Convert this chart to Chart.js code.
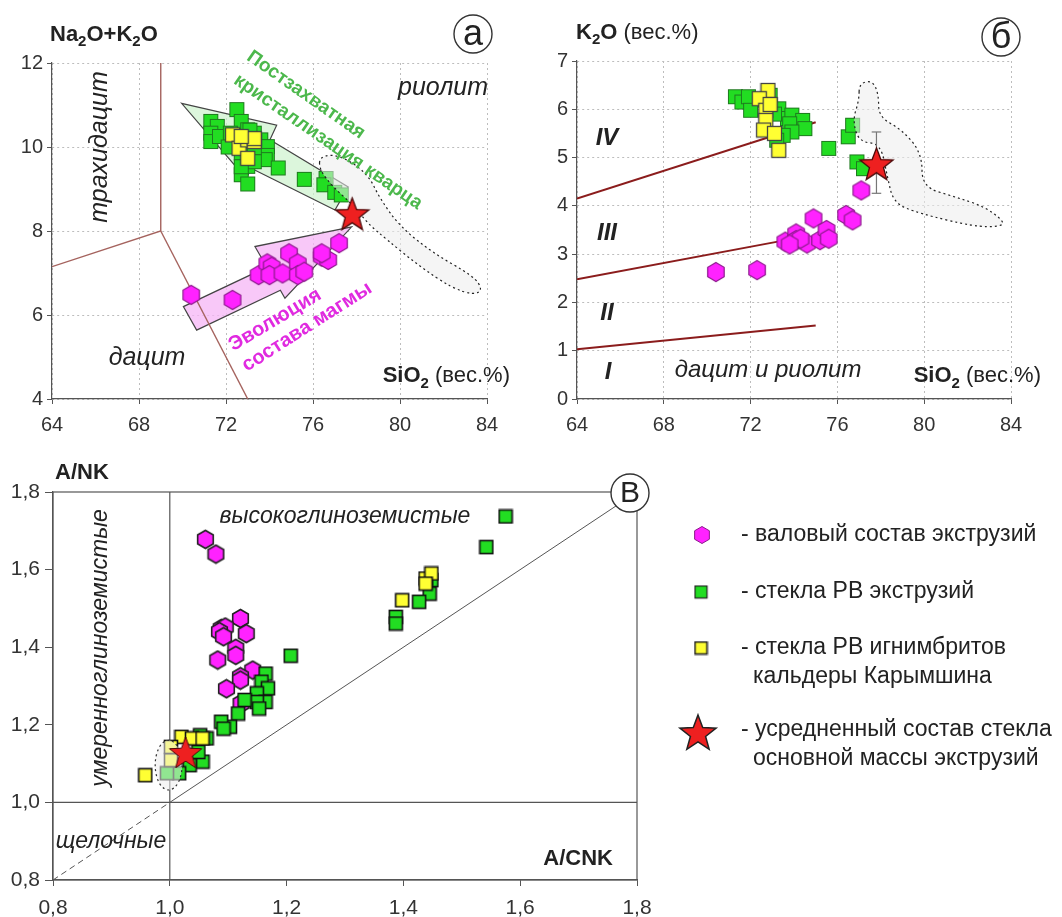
<!DOCTYPE html>
<html lang="ru">
<head>
<meta charset="utf-8">
<title>Диаграммы состава экструзий</title>
<script src="https://cdn.jsdelivr.net/npm/chart.js@4.4.1/dist/chart.umd.min.js"></script>
<style>
  html, body { margin: 0; background: #fff; }
  body { position: relative; width: 1062px; height: 917px; overflow: hidden; }
  canvas { position: absolute; }
</style>
</head>
<body>
<canvas id="tas" width="520" height="440" style="left:0;top:0"></canvas>
<canvas id="k2o" width="542" height="440" style="left:520px;top:0"></canvas>
<canvas id="acnk" width="1062" height="477" style="left:0;top:440px"></canvas>
<script>
const FONT = "'Liberation Sans', Arial, sans-serif";

// ---- панель а: Na2O+K2O – SiO2 ----
const tasSiTicks = [64, 68, 72, 76, 80, 84];
const tasAlkTicks = [4, 6, 8, 10, 12];
const tasGlassSi = [71.3, 71.6, 71.3, 71.3, 71.7, 72.5, 72.7, 73.0, 73.3, 73.6, 72.4, 72.7, 73.9, 73.9,
  73.8, 72.7, 73.0, 73.0, 74.4, 75.6, 76.6, 76.5, 77.0, 77.3, 73.3, 72.2, 72.5, 72.1, 73.3, 72.7, 73.1];
const tasGlassAlk = [10.61, 10.49, 10.33, 10.13, 10.25, 10.89, 10.61, 10.41, 10.33, 10.17, 10.01, 9.86, 10.01, 9.8,
  9.7, 9.34, 9.12, 9.54, 9.5, 9.23, 9.25, 9.1, 8.92, 8.86, 9.98, 10.33, 10.09, 10.0, 9.65, 9.53, 10.4];
const tasIgnSi = [72.3, 72.6, 73.0, 73.3, 73.0, 73.3, 72.7];
const tasIgnAlk = [10.29, 9.97, 10.17, 10.13, 9.73, 10.2, 10.25];
const tasBulkSi = [70.4, 72.3, 73.5, 73.9, 74.1, 74.0, 74.6, 74.9, 75.3, 75.3, 75.6, 76.4, 76.7, 77.2, 76.4];
const tasBulkAlk = [6.48, 6.36, 6.95, 7.23, 7.15, 6.95, 6.99, 7.47, 7.23, 6.95, 7.03, 7.39, 7.31, 7.71, 7.47];
const tasMeanSi = [77.8];
const tasMeanAlk = [8.42];
const tasBound1Si = [69, 69, 64];
const tasBound1Alk = [12, 8, 7.15];
const tasBound2Si = [69, 73];
const tasBound2Alk = [8, 4];
const arrowQtzSi = [69.96, 74.33, 74.02, 77.62, 77.01, 73.18, 72.92];
const arrowQtzAlk = [11.04, 10.52, 10.17, 9.05, 8.5, 9.49, 9.25];
const arrowEvoSi = [77.78, 73.33, 73.88, 70.04, 70.65, 74.5, 74.71];
const arrowEvoAlk = [8.1, 7.63, 7.14, 6.2, 5.64, 6.59, 6.4];
const fieldASi = [76.3, 77.2, 78.5, 79.1, 80.0, 81.5, 83.4, 83.8, 83.4, 82.4, 80.9, 79.4, 78.5, 77.9, 76.9, 76.3];
const fieldAAlk = [9.78, 9.82, 9.38, 8.75, 8.11, 7.48, 6.92, 6.6, 6.48, 6.64, 7.16, 7.79, 8.19, 8.59, 9.06, 9.46];

// ---- панель б: K2O – SiO2 ----
const k2oTicks = [0, 1, 2, 3, 4, 5, 6, 7];
const k2oGlassSi = [71.3, 71.6, 71.9, 72.6, 72.9, 73.3, 73.7, 73.9, 74.4, 74.5, 73.8, 73.9, 73.5, 73.2,
  75.6, 76.5, 76.7, 76.9, 77.2, 72.0, 73.1];
const k2oGlass = [6.26, 6.15, 6.26, 6.19, 6.29, 6.01, 5.81, 5.88, 5.77, 5.6, 5.7, 5.53, 5.46, 5.36,
  5.19, 5.43, 5.67, 4.91, 4.77, 5.98, 5.9];
const k2oIgnSi = [72.8, 72.4, 72.7, 72.7, 72.6, 73.1, 73.3, 72.9];
const k2oIgn = [6.39, 6.22, 5.98, 5.77, 5.57, 5.5, 5.15, 6.1];
const k2oBulkSi = [70.4, 72.3, 73.6, 74.1, 74.1, 74.6, 74.9, 75.2, 75.5, 75.6, 76.4, 76.7, 77.1, 74.3, 73.8];
const k2oBulk = [2.63, 2.67, 3.26, 3.43, 3.29, 3.22, 3.74, 3.29, 3.5, 3.32, 3.81, 3.7, 4.32, 3.32, 3.2];
const k2oMeanSi = [77.8];
const k2oMean = [4.88];
const k2oErrLow = [4.26];
const k2oErrHigh = [5.53];
const k2oLineIVSi = [64, 75];
const k2oLineIV = [4.15, 5.73];
const k2oLineIIISi = [64, 73.5];
const k2oLineIII = [2.48, 3.28];
const k2oLineIISi = [64, 75];
const k2oLineII = [1.03, 1.52];
const fieldBSi = [77.0, 77.6, 77.9, 77.9, 79.0, 79.9, 79.9, 81.4, 82.8, 83.7, 83.5, 82.3, 79.8, 78.6, 78.3, 78.0, 77.0, 76.7, 77.0];
const fieldBK = [6.53, 6.6, 6.32, 5.84, 5.57, 5.08, 4.39, 4.19, 3.98, 3.67, 3.57, 3.57, 3.84, 4.05, 4.6, 5.29, 5.32, 5.77, 6.19];

// ---- панель в: A/NK – A/CNK ----
const acnkTicks = [0.8, 1.0, 1.2, 1.4, 1.6, 1.8];
const acnkBulk = [1.061, 1.079, 1.121, 1.088, 1.095, 1.085, 1.092, 1.131, 1.113, 1.113, 1.082, 1.142, 1.121, 1.121, 1.097, 1.122];
const anBulk = [1.678, 1.64, 1.474, 1.448, 1.452, 1.44, 1.427, 1.435, 1.397, 1.379, 1.367, 1.341, 1.324, 1.315, 1.293, 1.255];
const acnkGlass = [1.575, 1.542, 1.448, 1.445, 1.427, 1.387, 1.387, 1.207, 1.164, 1.157, 1.168, 1.149, 1.164, 1.149,
  1.153, 1.128, 1.117, 1.103, 1.088, 1.092, 1.063, 1.052, 1.056, 1.034, 1.016, 0.995, 1.049];
const anGlass = [1.737, 1.658, 1.573, 1.538, 1.517, 1.478, 1.461, 1.378, 1.332, 1.311, 1.294, 1.281, 1.259, 1.259,
  1.242, 1.264, 1.229, 1.195, 1.208, 1.19, 1.165, 1.173, 1.105, 1.096, 1.075, 1.075, 1.13];
const acnkIgn = [0.958, 1.002, 1.02, 1.038, 1.056, 1.398, 1.438, 1.448, 1.438, 1.002];
const anIgn = [1.07, 1.109, 1.169, 1.165, 1.165, 1.521, 1.577, 1.59, 1.564, 1.143];
const acnkMean = [1.027];
const anMean = [1.13];
const acnkField = [0.998, 1.096, 0.023, 0.064]; // центр и полуоси области

const pts = (xs, ys) => xs.map((x, i) => ({ x, y: ys[i] }));

// ---- значки ----
function markCanvas(w, h, draw) {
  const c = document.createElement('canvas');
  c.width = w; c.height = h;
  draw(c.getContext('2d'), w / 2, h / 2);
  return c;
}
function hexagon(size, fill, stroke, lw) {
  const r = size / 2;
  return markCanvas(Math.ceil(r * Math.sqrt(3)) + 3, size + 3, (g, cx, cy) => {
    g.beginPath();
    for (let i = 0; i < 6; i++) {
      const a = -Math.PI / 2 + i * Math.PI / 3;
      g.lineTo(cx + r * Math.cos(a), cy + r * Math.sin(a));
    }
    g.closePath();
    g.fillStyle = fill; g.fill();
    g.lineWidth = lw; g.strokeStyle = stroke; g.stroke();
  });
}
function square(size, fill, stroke, lw) {
  return markCanvas(size + 3, size + 3, (g, cx, cy) => {
    g.fillStyle = fill;
    g.fillRect(cx - size / 2, cy - size / 2, size, size);
    g.lineWidth = lw; g.strokeStyle = stroke;
    g.strokeRect(cx - size / 2, cy - size / 2, size, size);
  });
}
function star(size, fill, stroke, lw) {
  const R = size / 2, r = R * 0.42;
  return markCanvas(size + 4, size + 4, (g, cx, cy) => {
    g.beginPath();
    for (let i = 0; i < 10; i++) {
      const a = -Math.PI / 2 + i * Math.PI / 5, rr = i % 2 ? r : R;
      g.lineTo(cx + rr * Math.cos(a), cy + 2 + rr * Math.sin(a));
    }
    g.closePath();
    g.fillStyle = fill; g.fill();
    g.lineWidth = lw; g.strokeStyle = stroke; g.stroke();
  });
}

const MAGENTA = '#ff22ff', GREEN = '#22dd22', YELLOW = '#ffff33', RED = '#ee2020';
const hexBig = hexagon(19, MAGENTA, '#8a1a8a', 1.2);
const greenBig = square(14, GREEN, '#1f7a1f', 1);
const yellowBig = square(14, YELLOW, '#444', 1.3);
const starBig = star(35, RED, '#4a0808', 1.3);
const hexSmall = hexagon(18, MAGENTA, '#222', 1.6);
const greenSmall = square(13, GREEN, '#111', 1.6);
const yellowSmall = square(13, YELLOW, '#111', 1.6);
const starSmall = star(34, RED, '#4a0808', 1);
const hexLegend = hexagon(17, MAGENTA, '#8a1a8a', 1);
const greenLegend = square(12, GREEN, '#222', 1.2);
const yellowLegend = square(12, YELLOW, '#222', 1.6);
const starLegend = star(38, RED, '#222', 1.5);

// ---- помощники рисования ----
const marks = (data, style) => ({ data, pointStyle: style, pointRadius: 6, pointHoverRadius: 6, showLine: false });
const line = (data, color, width, dash) => ({
  data, showLine: true, borderColor: color, borderWidth: width, borderDash: dash || [],
  pointRadius: 0, pointHoverRadius: 0, fill: false
});

function axis(ticks, size, opts) {
  return {
    type: 'linear', min: ticks[0], max: ticks[ticks.length - 1],
    afterBuildTicks: s => { s.ticks = ticks.map(v => ({ value: v })); },
    afterFit: s => { if (s.isHorizontal()) s.height = size; else s.width = size; },
    ticks: {
      color: '#333', font: { family: FONT, size: opts.font || 20 }, padding: opts.pad,
      autoSkip: false, maxRotation: 0, callback: opts.fmt || (v => v)
    },
    grid: {
      drawOnChartArea: opts.grid, color: '#bdbdbd', lineWidth: 1,
      tickColor: '#555', tickLength: opts.tick || 5
    },
    border: { display: true, color: '#555', width: 1.2, dash: [2, 3] }
  };
}

function baseOptions(x, y, pad) {
  return {
    responsive: false, animation: false, devicePixelRatio: 1, events: [],
    layout: { padding: pad },
    plugins: { legend: { display: false }, tooltip: { enabled: false } },
    scales: { x, y }
  };
}

function path(chart, xs, ys, smooth) {
  const ctx = chart.ctx, sx = chart.scales.x, sy = chart.scales.y;
  const p = xs.map((x, i) => [sx.getPixelForValue(x), sy.getPixelForValue(ys[i])]);
  ctx.beginPath();
  if (!smooth) {
    p.forEach((q, i) => i ? ctx.lineTo(q[0], q[1]) : ctx.moveTo(q[0], q[1]));
  } else {
    const n = p.length, mid = (a, b) => [(a[0] + b[0]) / 2, (a[1] + b[1]) / 2];
    const m0 = mid(p[n - 1], p[0]);
    ctx.moveTo(m0[0], m0[1]);
    for (let i = 0; i < n; i++) {
      const m = mid(p[i], p[(i + 1) % n]);
      ctx.quadraticCurveTo(p[i][0], p[i][1], m[0], m[1]);
    }
  }
  ctx.closePath();
}
function shape(chart, xs, ys, fill, stroke, dash, smooth) {
  const ctx = chart.ctx;
  ctx.save();
  path(chart, xs, ys, smooth);
  ctx.fillStyle = fill; ctx.fill();
  ctx.setLineDash(dash); ctx.lineWidth = 1.2; ctx.strokeStyle = stroke; ctx.stroke();
  ctx.restore();
}
function text(ctx, str, x, y, font, color, angle, align) {
  ctx.save();
  ctx.translate(x, y);
  ctx.rotate((angle || 0) * Math.PI / 180);
  ctx.font = font; ctx.fillStyle = color || '#222';
  ctx.textAlign = align || 'center'; ctx.textBaseline = 'middle';
  ctx.fillText(str, 0, 0);
  ctx.restore();
}
// части: [текст, шрифт, сдвиг по вертикали]
function rich(ctx, x, y, parts, align) {
  ctx.save();
  let w = 0;
  parts.forEach(p => { ctx.font = p[1]; w += ctx.measureText(p[0]).width; });
  let cx = align === 'right' ? x - w : x;
  ctx.fillStyle = '#222'; ctx.textAlign = 'left'; ctx.textBaseline = 'alphabetic';
  parts.forEach(p => { ctx.font = p[1]; ctx.fillText(p[0], cx, y + (p[2] || 0)); cx += ctx.measureText(p[0]).width; });
  ctx.restore();
}
function circled(ctx, letter, x, y, r, font) {
  ctx.save();
  ctx.beginPath(); ctx.arc(x, y, r, 0, Math.PI * 2);
  ctx.fillStyle = '#fff'; ctx.fill();
  ctx.lineWidth = 1.4; ctx.strokeStyle = '#333'; ctx.stroke();
  ctx.restore();
  text(ctx, letter, x, y + 1, font, '#222');
}

const B = 'bold 22px ' + FONT, SUB = 'bold 15px ' + FONT, N = '22px ' + FONT;
const IT = 'italic 25px ' + FONT;

// ---- панель а ----
new Chart(document.getElementById('tas'), {
  type: 'scatter',
  data: {
    datasets: [
      marks(pts(tasMeanSi, tasMeanAlk), starBig),
      marks(pts(tasIgnSi, tasIgnAlk), yellowBig),
      marks(pts(tasGlassSi, tasGlassAlk), greenBig),
      marks(pts(tasBulkSi, tasBulkAlk), hexBig),
      line(pts(tasBound1Si, tasBound1Alk), '#a5635e', 1.4),
      line(pts(tasBound2Si, tasBound2Alk), '#a5635e', 1.4)
    ]
  },
  options: baseOptions(axis(tasSiTicks, 41, { grid: true, pad: 9 }), axis(tasAlkTicks, 52, { grid: true, pad: 4 }),
    { left: 0, top: 63, right: 33, bottom: 0 }),
  plugins: [{
    id: 'decorA',
    beforeDatasetsDraw(chart) {
      shape(chart, arrowQtzSi, arrowQtzAlk, 'rgba(205,242,205,0.7)', '#444', [], false);
      shape(chart, arrowEvoSi, arrowEvoAlk, 'rgba(246,182,246,0.75)', '#444', [], false);
    },
    beforeDatasetDraw(chart, args) {
      if (args.index === 0) shape(chart, fieldASi, fieldAAlk, 'rgba(236,236,236,0.55)', '#222', [2, 3], true);
    },
    afterDraw(chart) {
      const ctx = chart.ctx;
      rich(ctx, 50, 41, [['Na', B], ['2', SUB, 5], ['O+K', B], ['2', SUB, 5], ['O', B]]);
      rich(ctx, 510, 382, [['SiO', B], ['2', SUB, 6], [' (вес.%)', N]], 'right');
      text(ctx, 'трахидацит', 100, 147, IT, '#222', -90);
      text(ctx, 'риолит', 443, 88, IT);
      text(ctx, 'дацит', 147, 358, IT);
      const G = 'bold 19px ' + FONT;
      text(ctx, 'Постзахватная', 306, 95, G, '#4cb84c', 35);
      text(ctx, 'кристаллизация кварца', 328, 142, G, '#4cb84c', 34.5);
      const M = 'bold 20px ' + FONT;
      text(ctx, 'Эволюция', 275, 320, M, '#e02ae0', -31);
      text(ctx, 'состава магмы', 307, 327, M, '#e02ae0', -32.5);
      circled(ctx, 'а', 473, 34, 19, '36px ' + FONT);
    }
  }]
});

// ---- панель б ----
new Chart(document.getElementById('k2o'), {
  type: 'scatter',
  data: {
    datasets: [
      marks(pts(k2oMeanSi, k2oMean), starBig),
      line(pts([k2oMeanSi[0], k2oMeanSi[0]], [k2oErrLow[0], k2oErrHigh[0]]), '#777', 1.2),
      line(pts([k2oMeanSi[0] - 0.22, k2oMeanSi[0] + 0.22], [k2oErrHigh[0], k2oErrHigh[0]]), '#777', 1.2),
      line(pts([k2oMeanSi[0] - 0.22, k2oMeanSi[0] + 0.22], [k2oErrLow[0], k2oErrLow[0]]), '#777', 1.2),
      marks(pts(k2oIgnSi, k2oIgn), yellowBig),
      marks(pts(k2oGlassSi, k2oGlass), greenBig),
      marks(pts(k2oBulkSi, k2oBulk), hexBig),
      line(pts(k2oLineIVSi, k2oLineIV), '#8b1c1c', 2),
      line(pts(k2oLineIIISi, k2oLineIII), '#8b1c1c', 2),
      line(pts(k2oLineIISi, k2oLineII), '#8b1c1c', 2)
    ]
  },
  options: baseOptions(axis(tasSiTicks, 41, { grid: true, pad: 9 }), axis(k2oTicks, 57, { grid: true, pad: 4 }),
    { left: 0, top: 61, right: 51, bottom: 0 }),
  plugins: [{
    id: 'decorB',
    beforeDatasetDraw(chart, args) {
      if (args.index === 3) shape(chart, fieldBSi, fieldBK, 'rgba(236,236,236,0.55)', '#222', [2, 3], true);
    },
    afterDraw(chart) {
      const ctx = chart.ctx;
      rich(ctx, 56, 39, [['K', B], ['2', SUB, 5], ['O', B], [' (вес.%)', N]]);
      rich(ctx, 521, 382, [['SiO', B], ['2', SUB, 6], [' (вес.%)', N]], 'right');
      const R = 'italic bold 24px ' + FONT;
      text(ctx, 'IV', 87, 138, R);
      text(ctx, 'III', 87, 233, R);
      text(ctx, 'II', 87, 313, R);
      text(ctx, 'I', 88, 372, R);
      text(ctx, 'дацит и риолит', 248, 370, 'italic 24px ' + FONT);
      circled(ctx, 'б', 481, 37, 19, '36px ' + FONT);
    }
  }]
});

// ---- панель в ----
const commaFmt = v => v.toFixed(1).replace('.', ',');
new Chart(document.getElementById('acnk'), {
  type: 'scatter',
  data: {
    datasets: [
      marks(pts(acnkMean, anMean), starSmall),
      marks(pts(acnkIgn, anIgn), yellowSmall),
      marks(pts(acnkGlass, anGlass), greenSmall),
      marks(pts(acnkBulk, anBulk), hexSmall),
      line(pts([0.8, 1.0], [0.8, 1.0]), '#555', 1, [6, 4]),
      line(pts([1.0, 1.8], [1.0, 1.8]), '#555', 1),
      line(pts([1.0, 1.0], [0.8, 1.8]), '#555', 1.2),
      line(pts([0.8, 1.8], [1.0, 1.0]), '#555', 1.2)
    ]
  },
  options: baseOptions(
    axis(acnkTicks, 37, { grid: false, pad: 10, tick: 6, font: 21, fmt: commaFmt }),
    axis(acnkTicks, 53, { grid: false, pad: 5, tick: 8, font: 21, fmt: commaFmt }),
    { left: 0, top: 52, right: 425, bottom: 0 }),
  plugins: [{
    id: 'decorC',
    beforeDatasetDraw(chart, args) {
      if (args.index !== 0) return;
      const ctx = chart.ctx, sx = chart.scales.x, sy = chart.scales.y;
      const cx = sx.getPixelForValue(acnkField[0]), cy = sy.getPixelForValue(acnkField[1]);
      const rx = Math.abs(sx.getPixelForValue(acnkField[0] + acnkField[2]) - cx);
      const ry = Math.abs(sy.getPixelForValue(acnkField[1] + acnkField[3]) - cy);
      ctx.save();
      ctx.beginPath(); ctx.ellipse(cx, cy, rx, ry, 0, 0, Math.PI * 2);
      ctx.fillStyle = 'rgba(236,236,236,0.55)'; ctx.fill();
      ctx.setLineDash([2, 3]); ctx.strokeStyle = '#333'; ctx.lineWidth = 1.2; ctx.stroke();
      ctx.restore();
    },
    afterDraw(chart) {
      const ctx = chart.ctx, a = chart.chartArea;
      ctx.save();
      ctx.strokeStyle = '#555'; ctx.lineWidth = 1.2;
      ctx.strokeRect(a.left, a.top, a.right - a.left, a.bottom - a.top);
      ctx.restore();
      rich(ctx, 55, 39, [['A/NK', B]]);
      rich(ctx, 613, 425, [['A/CNK', B]], 'right');
      const I = 'italic 23px ' + FONT;
      text(ctx, 'высокоглиноземистые', 345, 77, I);
      text(ctx, 'умеренноглиноземистые', 101, 208, I, '#222', -90);
      text(ctx, 'щелочные', 111, 402, I);
      circled(ctx, 'В', 630, 53, 19, '30px ' + FONT);

      // условные обозначения
      const L = '23px ' + FONT;
      const items = [
        [hexLegend, 702, 95, ['- валовый состав экструзий']],
        [greenLegend, 701, 152, ['- стекла РВ экструзий']],
        [yellowLegend, 701, 208, ['- стекла РВ игнимбритов', 'кальдеры Карымшина']],
        [starLegend, 698, 292, ['- усредненный состав стекла', 'основной массы экструзий']]
      ];
      items.forEach(([img, x, y, lines]) => {
        ctx.drawImage(img, x - img.width / 2, y - img.height / 2);
        const y0 = lines.length > 1 && img === starLegend ? y - 2 : y;
        lines.forEach((s, i) => text(ctx, s, i ? 753 : 741, y0 + i * 29, L, '#222', 0, 'left'));
      });
    }
  }]
});
</script>
</body>
</html>
